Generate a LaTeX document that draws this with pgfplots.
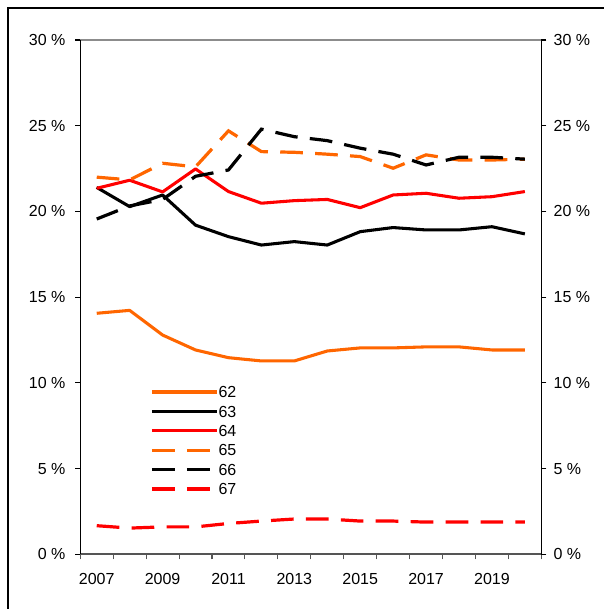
\documentclass[border=0pt]{standalone}
\usepackage{fontspec}
\setmainfont{Liberation Sans}
\usepackage{pgfplots}
\usepackage{pgfplotstable}
\pgfplotsset{compat=1.18}
\definecolor{xorange}{RGB}{255,102,0}
\definecolor{xred}{RGB}{255,0,0}
\definecolor{xgrayb}{RGB}{85,85,85}
\definecolor{xgrayt}{RGB}{140,140,140}

\pgfplotstableread{
x    s62   s63   s64   s65   s66   s67
0.5  14.06 21.40 21.35 22.00 19.56 1.67
1.5  14.23 20.28 21.82 21.84 20.32 1.53
2.5  12.79 20.96 21.14 22.81 20.70 1.60
3.5  11.92 19.20 22.48 22.60 22.05 1.60
4.5  11.47 18.53 21.16 24.70 22.42 1.80
5.5  11.28 18.04 20.48 23.49 24.80 1.94
6.5  11.28 18.24 20.63 23.45 24.36 2.06
7.5  11.86 18.04 20.70 23.34 24.13 2.06
8.5  12.04 18.82 20.22 23.20 23.69 1.94
9.5  12.04 19.06 20.96 22.52 23.34 1.94
10.5 12.10 18.92 21.06 23.30 22.71 1.88
11.5 12.10 18.92 20.77 23.00 23.16 1.88
12.5 11.92 19.11 20.86 23.00 23.16 1.88
13.5 11.92 18.69 21.16 23.05 23.05 1.88
}\datatable

\begin{document}
\begin{tikzpicture}
\useasboundingbox (-60.2pt,-41pt) rectangle (392pt,415.7pt);
\draw[line width=0.8pt] (-54.2pt,-80pt) -- (-54.2pt,409.7pt) -- (450pt,409.7pt);
\begin{axis}[
  at={(0pt,0pt)}, anchor=south west,
  scale only axis, width=345.75pt, height=385.7pt,
  xmin=0, xmax=14, ymin=0, ymax=30,
  axis line style={draw=none},
  clip=false,
  font=\fontsize{12}{14}\selectfont,
  tick align=outside,
  major tick length=3.75pt,
  xtick={0,1,...,14}, xticklabels={},
  xtick pos=bottom,
  x tick style={xgrayb, line width=0.8pt},
  extra x ticks={0.5,2.5,...,12.5},
  extra x tick labels={2007,2009,2011,2013,2015,2017,2019},
  extra x tick style={major tick length=0pt, xticklabel style={anchor=north, inner sep=0pt, yshift=-14.25pt}},
  ytick={0,5,...,30},
  yticklabels={0 \%,5 \%,10 \%,15 \%,20 \%,25 \%,30 \%},
  ytick pos=left,
  y tick style={black, line width=0.8pt},
  yticklabel style={anchor=east, inner sep=0pt, xshift=-7.25pt},
  legend style={at={(rel axis cs:0.1513,0.3273)}, anchor=north west,
    draw=none, fill=none, inner sep=0pt, row sep=5.95pt,
    nodes={inner sep=0pt, text height=8.6pt, text depth=0pt},
    font=\fontsize{12}{14}\selectfont},
  legend cell align=left,
  legend image code/.code={\draw[#1] (0pt,0pt) -- (48.75pt,0pt);},
  /tikz/every even column/.append style={column sep=2.5pt},
]
\draw[xgrayt, line width=1pt] (axis cs:0,30) -- (axis cs:14,30);
\draw[xgrayb, line width=1.4pt] (axis cs:0,0) -- (axis cs:14,0);
\draw[black, line width=1pt] (axis cs:0,0) -- (axis cs:0,30);
\draw[black, line width=1pt] (axis cs:14,0) -- (axis cs:14,30);
\addplot[xorange, line width=2.3pt, line join=round] table[x=x,y=s62] {\datatable};
\addlegendentry{62}
\addplot[black, line width=2.3pt, line join=round] table[x=x,y=s63] {\datatable};
\addlegendentry{63}
\addplot[xred, line width=2.3pt, line join=round] table[x=x,y=s64] {\datatable};
\addlegendentry{64}
\addplot[xorange, line width=2.4pt, dash pattern=on 17pt off 9.2pt] table[x=x,y=s65] {\datatable};
\addlegendentry{65}
\addplot[black, line width=2.4pt, dash pattern=on 17pt off 9.2pt] table[x=x,y=s66] {\datatable};
\addlegendentry{66}
\addplot[xred, line width=2.4pt, dash pattern=on 17pt off 9.2pt] table[x=x,y=s67] {\datatable};
\addlegendentry{67}
\end{axis}
\begin{axis}[
  at={(0pt,0pt)}, anchor=south west,
  scale only axis, width=345.75pt, height=385.7pt,
  xmin=0, xmax=14, ymin=0, ymax=30,
  axis line style={draw=none},
  font=\fontsize{12}{14}\selectfont,
  tick align=outside,
  major tick length=3.75pt,
  xtick=\empty,
  ytick={0,5,...,30},
  yticklabels={0 \%,5 \%,10 \%,15 \%,20 \%,25 \%,30 \%},
  ytick pos=right, yticklabel pos=right,
  y tick style={black, line width=0.8pt},
  yticklabel style={anchor=west, inner sep=0pt, xshift=5.25pt},
]
\end{axis}
\end{tikzpicture}
\end{document}
